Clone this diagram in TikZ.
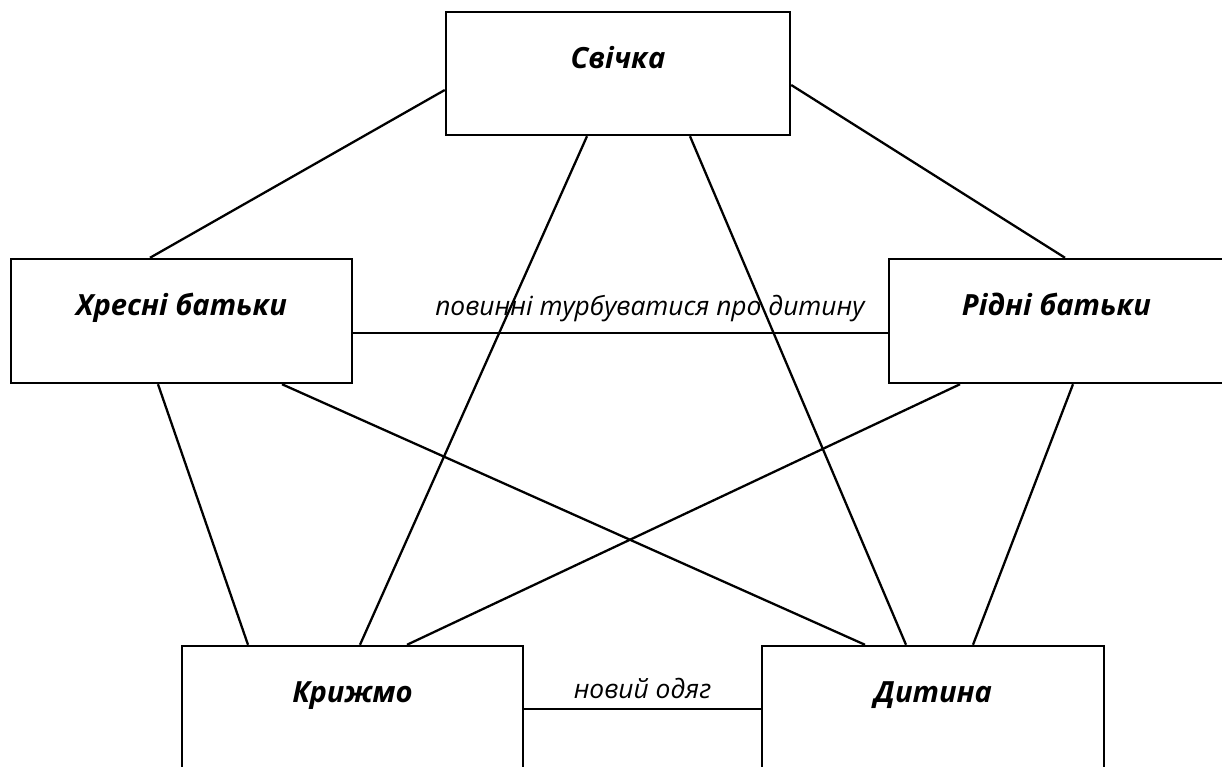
\documentclass[tikz,border=0pt]{standalone}
\usepackage{fontspec}
\setmainfont{Open Sans}
\usetikzlibrary{positioning}
\tikzset
{
    conceptbox/.style = {rectangle, draw=black, line width=1.4pt, minimum width=6.84cm, minimum height=2.48cm, inner sep=0pt},
    boxtitle/.style   = {anchor=base, yshift=-1.15cm, font=\fontsize{16.6}{20}\selectfont\bfseries\itshape},
    linklabel/.style  = {font=\fontsize{15}{18}\selectfont\itshape, inner sep=0pt, anchor=base}
}

\begin{document}
\begin{tikzpicture}[line width=1.3pt]
\useasboundingbox (0,0) rectangle (24.44,-15.32);
\clip (0,0) rectangle (24.44,-15.32);
\node [conceptbox, minimum width=6.88cm, minimum height=2.46cm, label={[boxtitle]north:Свічка}] at (12.36,-1.47) (svichka) {};
\node [conceptbox, minimum width=6.82cm, label={[boxtitle]north:Хресні батьки}] at (3.63,-6.42) (khresni) {};
\node [conceptbox, minimum width=6.70cm, label={[boxtitle]north:Рідні батьки}] at (21.13,-6.42) (ridni) {};
\node [conceptbox, minimum width=6.82cm, minimum height=3.08cm, label={[boxtitle]north:Крижмо}] at (7.05,-14.46) (kryzhmo) {};
\node [conceptbox, minimum height=3.08cm, label={[boxtitle]north:Дитина}] at (18.66,-14.46) (dytyna) {};
\draw ([yshift=-0.33cm]svichka.west) -- ([xshift=-0.63cm]khresni.north);
\draw ([yshift=-0.23cm]svichka.east) -- ([xshift=0.17cm]ridni.north);
\draw ([xshift=-0.62cm]svichka.south) -- ([xshift=0.15cm]kryzhmo.north);
\draw ([xshift=1.44cm]svichka.south) -- ([xshift=-0.54cm]dytyna.north);
\draw ([xshift=-0.47cm]khresni.south) -- ([xshift=-2.09cm]kryzhmo.north);
\draw ([xshift=2.01cm]khresni.south) -- ([xshift=-1.36cm]dytyna.north);
\draw ([xshift=-1.93cm]ridni.south) -- ([xshift=1.09cm]kryzhmo.north);
\draw ([xshift=0.33cm]ridni.south) -- ([xshift=0.8cm]dytyna.north);
\draw ([yshift=-0.24cm]khresni.east) -- node [linklabel, pos=0.555, yshift=0.36cm] {повинні турбуватися про дитину} ([yshift=-0.24cm]ridni.west);
\draw ([yshift=0.28cm]kryzhmo.east) -- node [linklabel, midway, yshift=0.22cm] {новий одяг} ([yshift=0.28cm]dytyna.west);
\end{tikzpicture}
\end{document}
